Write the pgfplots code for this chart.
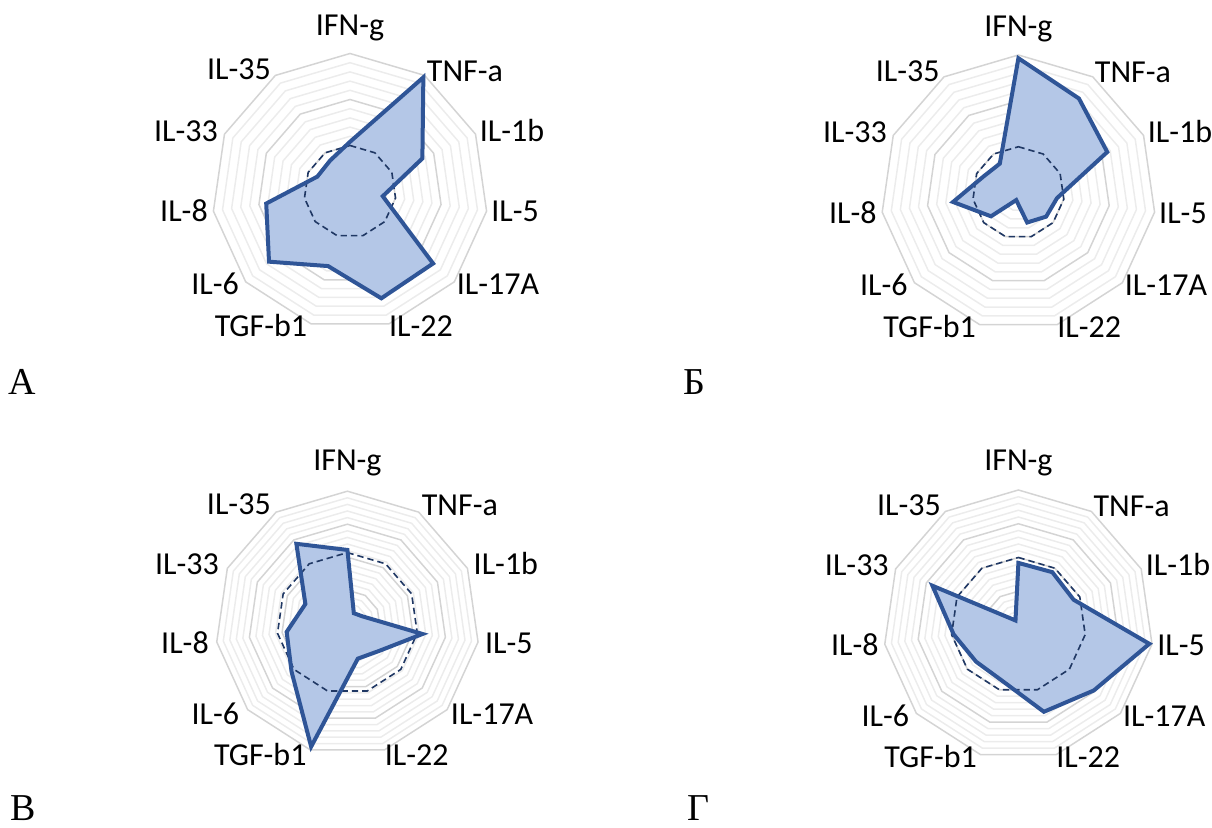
\documentclass[border=0pt]{standalone}
\usepackage{pgfplots}
\usepackage{pgfplotstable}
\pgfplotsset{compat=1.18}
\usepackage{fontspec}
\setmainfont{Carlito}
\newfontfamily\seriffont{Liberation Serif}
\definecolor{fillblue}{HTML}{B4C7E7}
\definecolor{lineblue}{HTML}{2F5597}
\definecolor{dashblue}{HTML}{203864}
\definecolor{gridmaj}{HTML}{D4D4D4}
\definecolor{gridmin}{HTML}{ECECEC}

\pgfplotstableread{
ang     A     B     C     D     ctrlA ctrlB ctrlC ctrlD
90      1.08  2.93  1.11  0.92  1.0   1.0   1.07  1.0
57.273  2.95  2.44  0.18  0.93  1.0   1.0   1.07  1.0
24.545  1.73  2.13  0.25  0.90  1.0   1.0   1.07  1.0
-8.182  0.72  0.85  1.15  1.96  1.0   1.0   1.07  1.0
-40.909 2.39  0.80  0.64  1.48  1.0   1.0   1.07  1.0
-73.636 2.42  0.68  0.56  1.34  1.0   1.0   1.07  1.0
-106.364 1.69 0.17  1.95  0.86  1.0   1.0   1.07  1.0
-139.091 2.33 0.79  1.12  0.83  1.0   1.0   1.07  1.0
-171.818 1.84 1.44  0.93  0.97  1.0   1.0   1.07  1.0
155.455 0.78  0.84  0.70  1.40  1.0   1.0   1.07  1.0
122.727 0.80  0.75  1.43  0.08  1.0   1.0   1.07  1.0
}\radardata

\newcommand{\ring}[2]{\addplot[#1, data cs=polar, line join=miter] coordinates {(90,#2) (57.273,#2) (24.545,#2) (-8.182,#2) (-40.909,#2) (-73.636,#2) (-106.364,#2) (-139.091,#2) (-171.818,#2) (155.455,#2) (122.727,#2)} -- cycle;}

\newcommand{\series}[2]{%
  \addplot[fill=fillblue, draw=none, data cs=polar] table[x=ang, y=#1] {\radardata} -- cycle;
  \addplot[dashblue, line width=0.8pt, dash pattern=on 3.2pt off 2pt, data cs=polar, line join=miter] table[x=ang, y=#2] {\radardata} -- cycle;
  \addplot[lineblue, line width=2pt, line join=miter, data cs=polar] table[x=ang, y=#1] {\radardata} -- cycle;
}

\newcommand{\labelfont}{\fontsize{16pt}{19pt}\selectfont}
\newcommand{\radarlabels}[3]{%
\begin{scope}[shift={(#1,#2)}, every node/.style={anchor=base, font=\labelfont, inner sep=0pt}]
\node at (0, 1.134*#3) {IFN-g};
\node at (0.833*#3, 0.797*#3) {TNF-a};
\node at (1.174*#3, 0.362*#3) {IL-1b};
\node at (1.196*#3, -0.221*#3) {IL-5};
\node at (1.072*#3, -0.750*#3) {IL-17A};
\node at (0.514*#3, -1.051*#3) {IL-22};
\node at (-0.645*#3, -1.051*#3) {TGF-b1};
\node at (-0.978*#3, -0.750*#3) {IL-6};
\node at (-1.203*#3, -0.221*#3) {IL-8};
\node at (-1.188*#3, 0.362*#3) {IL-33};
\node at (-0.804*#3, 0.808*#3) {IL-35};
\end{scope}}

\pgfplotsset{radar/.style={hide axis, scale only axis, anchor=center, clip=false,
  width=#1, height=#1}}

\begin{document}
\begin{tikzpicture}
\useasboundingbox (0,0) rectangle (606pt,-414pt);

% Panel A
\begin{axis}[radar=138pt, at={(175pt,-95.75pt)}, xmin=-3, xmax=3, ymin=-3, ymax=3]
\pgfplotsinvokeforeach{0.2,0.4,0.6,0.8,1.2,1.4,1.6,1.8,2.2,2.4,2.6,2.8}{\ring{gridmin, line width=0.75pt}{#1}}
\pgfplotsinvokeforeach{1,2,3}{\ring{gridmaj, line width=0.75pt}{#1}}
\series{A}{ctrlA}
\end{axis}
\radarlabels{175pt}{-95.75pt}{69pt}

% Panel B
\begin{axis}[radar=137.6pt, at={(509.2pt,-96.3pt)}, xmin=-3, xmax=3, ymin=-3, ymax=3]
\pgfplotsinvokeforeach{0.2,0.4,0.6,0.8,1.2,1.4,1.6,1.8,2.2,2.4,2.6,2.8}{\ring{gridmin, line width=0.75pt}{#1}}
\pgfplotsinvokeforeach{1,2,3}{\ring{gridmaj, line width=0.75pt}{#1}}
\series{B}{ctrlB}
\end{axis}
\radarlabels{509.2pt}{-96.3pt}{68.8pt}

% Panel C
\begin{axis}[radar=132pt, at={(173.7pt,-311.6pt)}, xmin=-2, xmax=2, ymin=-2, ymax=2]
\pgfplotsinvokeforeach{0.1,0.2,0.3,0.4,0.6,0.7,0.8,0.9,1.1,1.2,1.3,1.4,1.6,1.7,1.8,1.9}{\ring{gridmin, line width=0.75pt}{#1}}
\pgfplotsinvokeforeach{0.5,1,1.5,2}{\ring{gridmaj, line width=0.75pt}{#1}}
\series{C}{ctrlC}
\end{axis}
\radarlabels{173.7pt}{-311.6pt}{67.5pt}

% Panel D
\begin{axis}[radar=135pt, at={(509.2pt,-312.5pt)}, xmin=-2, xmax=2, ymin=-2, ymax=2]
\pgfplotsinvokeforeach{0.1,0.2,0.3,0.4,0.6,0.7,0.8,0.9,1.1,1.2,1.3,1.4,1.6,1.7,1.8,1.9}{\ring{gridmin, line width=0.75pt}{#1}}
\pgfplotsinvokeforeach{0.5,1,1.5,2}{\ring{gridmaj, line width=0.75pt}{#1}}
\series{D}{ctrlD}
\end{axis}
\radarlabels{509.2pt}{-312.5pt}{68pt}

% panel letters
\begin{scope}[every node/.style={anchor=base west, inner sep=0pt, font=\seriffont\fontsize{19pt}{22pt}\selectfont}]
\node at (4pt,-197.5pt) {А};
\node at (341.5pt,-197.5pt) {Б};
\node at (5pt,-410.5pt) {В};
\node at (343.3pt,-410.5pt) {Г};
\end{scope}
\end{tikzpicture}
\end{document}
